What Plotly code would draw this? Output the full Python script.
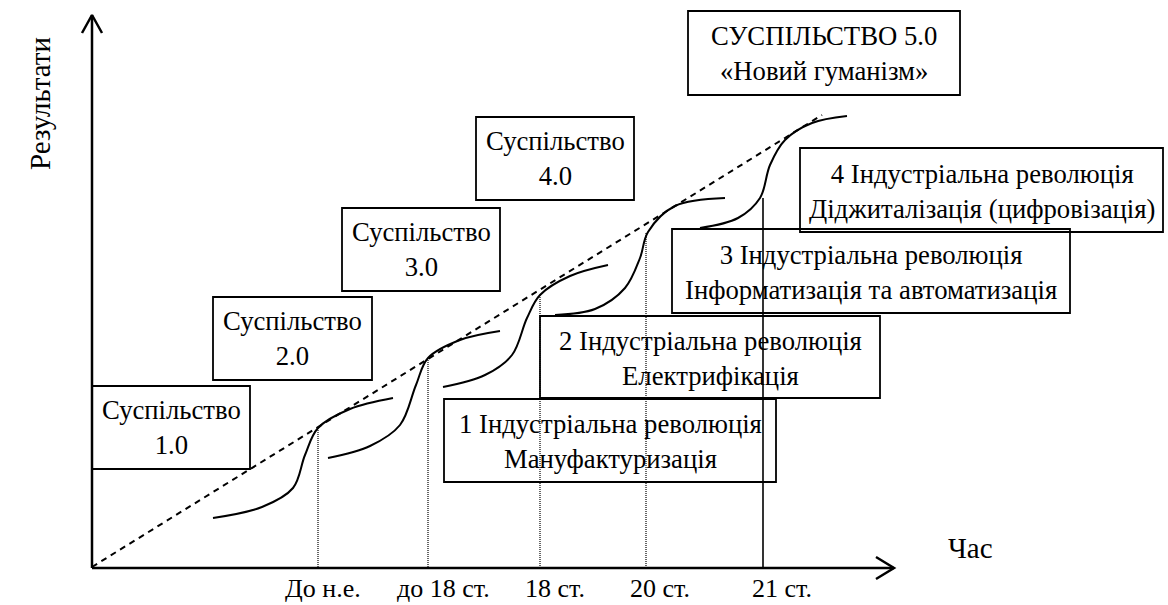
import plotly.graph_objects as go

W, H = 1168, 605
FONT = "Liberation Serif, Times New Roman, serif"
BOX_FONT = 26.7

# ---- axes (diagram coordinates, y grows downward) ----
origin = (92, 568)
x_axis_end = 894
y_axis_end = 15

# ---- trend (dashed) line ----
trend_x = [92, 822]
trend_y = [567, 115]

# ---- era markers on the time axis ----
era_labels = ["До н.е.", "до 18 ст.", "18 ст.", "20 ст.", "21 ст."]
era_label_x = [323, 443, 555, 660, 782]
era_x = [318, 428, 540, 646, 763]
era_top = [428, 358, 295, 233, 198]
era_style = ["dot", "dot", "dot", "dot", "solid"]

# ---- S-curves (one per stage) ----
curve1_x = [213, 262, 293, 305, 318, 350, 393]
curve1_y = [518, 507, 488, 455, 428, 409, 398]
curve2_x = [328, 370, 400, 416, 428, 460, 500]
curve2_y = [458, 446, 425, 385, 358, 340, 331]
curve3_x = [443, 485, 512, 527, 540, 570, 608]
curve3_y = [387, 375, 355, 318, 295, 276, 265]
curve4_x = [555, 595, 625, 640, 648, 675, 725]
curve4_y = [315, 309, 288, 258, 232, 206, 198]
curve5_x = [700, 738, 760, 770, 785, 812, 847]
curve5_y = [228, 218, 198, 165, 140, 123, 116]
curves = [(curve1_x, curve1_y), (curve2_x, curve2_y), (curve3_x, curve3_y),
          (curve4_x, curve4_y), (curve5_x, curve5_y)]

# ---- society boxes ----
society_text = ["Суспільство<br>1.0", "Суспільство<br>2.0", "Суспільство<br>3.0",
                "Суспільство<br>4.0", "СУСПІЛЬСТВО 5.0<br>«Новий гуманізм»"]
society_x0 = [92, 213, 342, 476, 688]
society_x1 = [250, 372, 500, 634, 960]
society_y0 = [386, 297, 208, 117, 11]
society_y1 = [469, 380, 291, 200, 95]

# ---- industrial revolution boxes ----
rev_text = ["1 Індустріальна революція<br>Мануфактуризація",
            "2 Індустріальна революція<br>Електрифікація",
            "3 Індустріальна революція<br>Інформатизація та автоматизація",
            "4 Індустріальна революція<br>Діджиталізація (цифровізація)"]
rev_x0 = [444, 540, 672, 800]
rev_x1 = [776, 880, 1070, 1163]
rev_y0 = [399, 316, 229, 148]
rev_y1 = [482, 398, 313, 232]

fig = go.Figure()

# axes
fig.add_trace(go.Scatter(x=[origin[0], origin[0]], y=[origin[1], y_axis_end], mode="lines",
                         line=dict(color="black", width=2.5), hoverinfo="skip"))
fig.add_trace(go.Scatter(x=[origin[0], x_axis_end], y=[origin[1], origin[1]], mode="lines",
                         line=dict(color="black", width=2.5), hoverinfo="skip"))
# arrowheads
fig.add_trace(go.Scatter(x=[origin[0] - 10, origin[0], origin[0] + 10],
                         y=[y_axis_end + 18, y_axis_end, y_axis_end + 18], mode="lines",
                         line=dict(color="black", width=2.5), hoverinfo="skip"))
fig.add_trace(go.Scatter(x=[x_axis_end - 18, x_axis_end, x_axis_end - 18],
                         y=[origin[1] - 11, origin[1], origin[1] + 11], mode="lines",
                         line=dict(color="black", width=2.5), hoverinfo="skip"))

# trend line
fig.add_trace(go.Scatter(x=trend_x, y=trend_y, mode="lines",
                         line=dict(color="black", width=2, dash="6px,5px"), hoverinfo="skip"))

# era verticals
for ex, et, st in zip(era_x, era_top, era_style):
    fig.add_trace(go.Scatter(x=[ex, ex], y=[et, origin[1]], mode="lines",
                             line=dict(color="black", width=1.2 if st == "dot" else 1.6,
                                       dash="1px,1px" if st == "dot" else "solid"),
                             hoverinfo="skip"))

# S-curves
for cx, cy in curves:
    fig.add_trace(go.Scatter(x=cx, y=cy, mode="lines",
                             line=dict(color="black", width=2, shape="spline", smoothing=1.0),
                             hoverinfo="skip"))

# boxes
for x0, x1, y0, y1, t in zip(society_x0, society_x1, society_y0, society_y1, society_text):
    fig.add_shape(type="rect", x0=x0, x1=x1, y0=y0, y1=y1, xref="x", yref="y",
                  line=dict(color="black", width=1.8), fillcolor="rgba(0,0,0,0)")
    fig.add_annotation(x=(x0 + x1) / 2, y=(y0 + y1) / 2, text=t, showarrow=False,
                       xanchor="center", yanchor="middle", align="center",
                       font=dict(family=FONT, size=BOX_FONT, color="black"))
for x0, x1, y0, y1, t in zip(rev_x0, rev_x1, rev_y0, rev_y1, rev_text):
    fig.add_shape(type="rect", x0=x0, x1=x1, y0=y0, y1=y1, xref="x", yref="y",
                  line=dict(color="black", width=1.8), fillcolor="rgba(0,0,0,0)")
    fig.add_annotation(x=(x0 + x1) / 2, y=(y0 + y1) / 2 + 1, text=t, showarrow=False,
                       xanchor="center", yanchor="middle", align="center",
                       font=dict(family=FONT, size=BOX_FONT, color="black"))

# era labels
for lx, lt in zip(era_label_x, era_labels):
    fig.add_annotation(x=lx, y=588, text=lt, showarrow=False, xanchor="center",
                       yanchor="middle", borderpad=0,
                       font=dict(family=FONT, size=26, color="black"))

# axis titles
fig.add_annotation(x=970, y=548, text="Час", showarrow=False, xanchor="center",
                   yanchor="middle", font=dict(family=FONT, size=29, color="black"))
fig.add_annotation(x=40, y=104, text="Результати", showarrow=False, textangle=-90,
                   xanchor="center", yanchor="middle",
                   font=dict(family=FONT, size=29, color="black"))

fig.update_layout(
    width=W, height=H, margin=dict(l=0, r=0, t=0, b=0),
    paper_bgcolor="white", plot_bgcolor="white", showlegend=False,
    xaxis=dict(range=[0, W], visible=False, fixedrange=True),
    yaxis=dict(range=[H, 0], visible=False, fixedrange=True),
)

fig.write_html("out.html", config={"displayModeBar": False},
               post_script="document.body.style.margin='0';")
